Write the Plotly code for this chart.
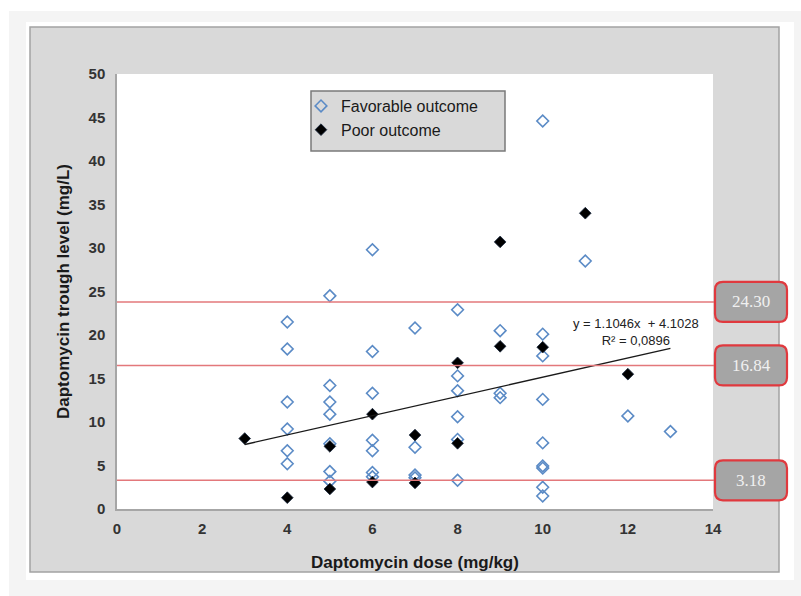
import plotly.graph_objects as go

# ---------------- data ----------------
fav_dose = [4, 4, 4, 4, 4, 4,
            5, 5, 5, 5, 5, 5, 5,
            6, 6, 6, 6, 6, 6, 6,
            7, 7, 7, 7,
            8, 8, 8, 8, 8, 8,
            9, 9, 9,
            10, 10, 10, 10, 10, 10, 10, 10, 10,
            11, 12, 13]
fav_trough = [21.5, 18.4, 12.3, 9.2, 6.7, 5.2,
              24.5, 14.2, 12.3, 10.9, 7.5, 4.3, 3.2,
              29.8, 18.1, 13.3, 7.9, 6.7, 4.2, 3.7,
              20.8, 7.1, 3.9, 3.6,
              22.9, 15.3, 13.6, 10.6, 8.0, 3.3,
              20.5, 13.3, 12.8,
              44.6, 20.1, 17.6, 12.6, 7.6, 4.95, 4.7, 2.5, 1.5,
              28.5, 10.7, 8.9]
poor_dose = [3, 4, 5, 5, 6, 6, 7, 7, 8, 8, 9, 9, 10, 11, 12]
poor_trough = [8.1, 1.3, 7.2, 2.3, 10.9, 3.1, 8.5, 3.0, 16.8, 7.55, 30.7, 18.7, 18.6, 34.0, 15.5]

series_names = ["Favorable outcome", "Poor outcome"]

trend_slope = 1.1046
trend_intercept = 4.1028
trend_x = [3, 13]
trend_label = "y = 1.1046x  + 4.1028<br>R² = 0,0896"

threshold_levels = [23.8, 16.5, 3.3]
threshold_labels = ["24.30", "16.84", "3.18"]

x_ticks = [0, 2, 4, 6, 8, 10, 12, 14]
y_ticks = [0, 5, 10, 15, 20, 25, 30, 35, 40, 45, 50]

x_title = "Daptomycin dose (mg/kg)"
y_title = "Daptomycin trough level (mg/L)"

# ---------------- geometry helpers ----------------
W, H = 801, 596
L, R, T, B = 117, 713, 74, 509   # plot area in pixels


def px(x):
    return (x - L) / (R - L)


def py(y):
    return (B - y) / (B - T)


fig = go.Figure()

fig.add_trace(go.Scatter(
    x=fav_dose, y=fav_trough, mode="markers", name=series_names[0],
    marker=dict(symbol="diamond-open", size=9, color="#5b8bc6",
                line=dict(width=1.6, color="#5b8bc6")),
))
fig.add_trace(go.Scatter(
    x=poor_dose, y=poor_trough, mode="markers", name=series_names[1],
    marker=dict(symbol="diamond", size=9, color="#000000",
                line=dict(width=0.8, color="#1a2a40")),
))
trend_y = [trend_slope * v + trend_intercept for v in trend_x]
fig.add_trace(go.Scatter(
    x=trend_x, y=trend_y, mode="lines", showlegend=False,
    line=dict(color="#1a1a1a", width=1.4), hoverinfo="skip",
))

shapes = []
# page background layers
shapes.append(dict(type="rect", xref="paper", yref="paper", layer="below",
                   x0=px(9), x1=px(W + 5), y0=py(11), y1=py(H + 5),
                   fillcolor="#f4f4f4", line=dict(width=0)))
shapes.append(dict(type="rect", xref="paper", yref="paper", layer="below",
                   x0=px(26), x1=px(794), y0=py(22), y1=py(580),
                   fillcolor="#ffffff", line=dict(width=0)))
shapes.append(dict(type="rect", xref="paper", yref="paper", layer="below",
                   x0=px(30), x1=px(779), y0=py(27), y1=py(572),
                   fillcolor="#d9d9d9", line=dict(width=1.5, color="#a3a3a3")))
shapes.append(dict(type="rect", xref="paper", yref="paper", layer="below",
                   x0=0, x1=1, y0=0, y1=1,
                   fillcolor="#ffffff", line=dict(width=0)))
# legend box
shapes.append(dict(type="rect", xref="paper", yref="paper", layer="below",
                   x0=px(311), x1=px(505), y0=py(91), y1=py(151),
                   fillcolor="#d9d9d9", line=dict(width=1.5, color="#7a7a7a")))

# threshold lines + rounded label boxes
bx0, bx1 = px(715), px(787)
rxp = 8 / (R - L)
unit = (B - T) / 50.0
half_h = 20 / unit
ryd = 8 / unit
annotations = []
for lvl, lab in zip(threshold_levels, threshold_labels):
    shapes.append(dict(type="line", xref="paper", yref="y", layer="above",
                       x0=0, x1=px(716), y0=lvl, y1=lvl,
                       line=dict(color="#e3787b", width=1.6)))
    y0, y1 = lvl - half_h, lvl + half_h
    path = (f"M {bx0 + rxp},{y1} L {bx1 - rxp},{y1} Q {bx1},{y1} {bx1},{y1 - ryd} "
            f"L {bx1},{y0 + ryd} Q {bx1},{y0} {bx1 - rxp},{y0} "
            f"L {bx0 + rxp},{y0} Q {bx0},{y0} {bx0},{y0 + ryd} "
            f"L {bx0},{y1 - ryd} Q {bx0},{y1} {bx0 + rxp},{y1} Z")
    shapes.append(dict(type="path", xref="paper", yref="y", layer="above",
                       path=path, fillcolor="#a5a5a5",
                       line=dict(color="#e0393e", width=2.2)))
    annotations.append(dict(x=(bx0 + bx1) / 2, y=lvl, xref="paper", yref="y",
                            xanchor="center", yanchor="middle",
                            text=lab, showarrow=False,
                            font=dict(family="Liberation Serif, Times New Roman, serif",
                                      size=17, color="#f0f0f0")))

annotations.append(dict(x=12.2, y=20.35, xref="x", yref="y", text=trend_label,
                        showarrow=False, align="center",
                        xanchor="center", yanchor="middle",
                        font=dict(family="Liberation Sans, Arial, sans-serif",
                                  size=13, color="#222222")))

axis_font = dict(family="Liberation Sans, Arial, sans-serif", size=15, color="#333333",
                 weight="bold")
title_font = dict(family="Liberation Sans, Arial, sans-serif", size=17, color="#1a1a1a")

fig.update_layout(
    width=W, height=H, autosize=False,
    margin=dict(l=L, r=W - R, t=T, b=H - B, pad=0),
    paper_bgcolor="#ffffff", plot_bgcolor="#ffffff",
    shapes=shapes, annotations=annotations,
    showlegend=True,
    legend=dict(x=px(301), y=py(89), xanchor="left", yanchor="top",
                bgcolor="rgba(0,0,0,0)", borderwidth=0,
                font=dict(family="Liberation Sans, Arial, sans-serif",
                          size=16, color="#1a1a1a"),
                tracegroupgap=0),
    xaxis=dict(range=[0, 14], tickvals=x_ticks, ticktext=[str(v) for v in x_ticks],
               showgrid=False, zeroline=False, showline=True,
               linecolor="#a6a6a6", linewidth=1.5, ticks="",
               tickfont=axis_font, ticklabelstandoff=5,
               title=dict(text="<b>" + x_title + "</b>", font=title_font, standoff=20)),
    yaxis=dict(range=[0, 50], tickvals=y_ticks, ticktext=[str(v) for v in y_ticks],
               showgrid=False, zeroline=False, showline=True,
               linecolor="#a6a6a6", linewidth=1.5, ticks="",
               tickfont=axis_font, ticklabelstandoff=7,
               title=dict(text="<b>" + y_title + "</b>", font=title_font, standoff=15)),
)

fig.write_html("out.html", include_plotlyjs=True, config={"displayModeBar": False},
               post_script="document.body.style.margin='0';document.body.style.overflow='hidden';")
